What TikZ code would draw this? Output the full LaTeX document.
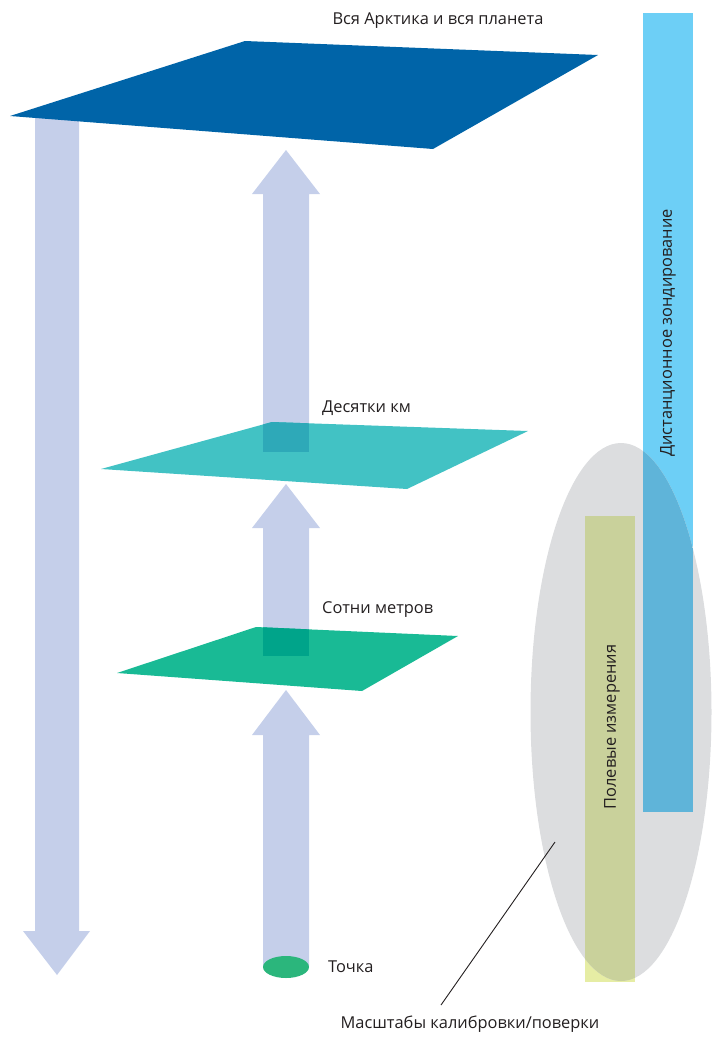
\documentclass[tikz,border=0pt]{standalone}
\usepackage{fontspec}
\setmainfont{Open Sans}
\usetikzlibrary{shapes.geometric}

\definecolor{planeblue}{HTML}{0064A8}
\definecolor{planeteal}{HTML}{42C2C4}
\definecolor{planegreen}{HTML}{19BA95}
\definecolor{overteal}{HTML}{2EA9B8}
\definecolor{overgreen}{HTML}{00A48A}
\definecolor{arrowblue}{HTML}{C5CFEA}
\definecolor{barblue}{HTML}{6DCFF6}
\definecolor{barblueshade}{HTML}{5FB4D9}
\definecolor{baryellow}{HTML}{E6EDA4}
\definecolor{baryellowshade}{HTML}{C9D19B}
\definecolor{ellgrey}{HTML}{DCDDDF}
\definecolor{pointgreen}{HTML}{2BB67C}
\definecolor{labeltext}{HTML}{231F20}

\begin{document}
\begin{tikzpicture}[
    x=1pt, y=-1pt,
    every node/.style={text=labeltext, font=\fontsize{16.4}{19}\selectfont},
    fatarrow/.style={fill=arrowblue},
    levellabel/.style={anchor=west, inner sep=0pt},
    bartext/.style={rotate=90, inner sep=0pt}
]
    \useasboundingbox (0,0) rectangle (715,1037);

    % Planes
    \coordinate (P1) at (10,116);  \coordinate (P2) at (245,41);
    \coordinate (P3) at (598,55);  \coordinate (P4) at (433,149);
    \coordinate (T1) at (101,469); \coordinate (T2) at (272,422);
    \coordinate (T3) at (528,431); \coordinate (T4) at (407,489);
    \coordinate (G1) at (117,673); \coordinate (G2) at (256,627);
    \coordinate (G3) at (458,636); \coordinate (G4) at (362,691);

    % Big arrow down
    \fill[fatarrow] (35,116) -- (79,116) -- (79,931) -- (90,931)
        -- (57,975) -- (23,931) -- (35,931) -- cycle;

    % Arrows up between the levels
    \foreach \low/\base/\tip in {966/735/690, 656/528/484, 452/194/150}
        \fill[fatarrow] (263,\low) -- (263,\base) -- (252,\base) -- (286,\tip)
            -- (320,\base) -- (309,\base) -- (309,\low) -- cycle;

    \fill[planeblue]  (P1) -- (P2) -- (P3) -- (P4) -- cycle;
    \fill[planeteal]  (T1) -- (T2) -- (T3) -- (T4) -- cycle;
    \fill[planegreen] (G1) -- (G2) -- (G3) -- (G4) -- cycle;

    % Shafts seen through the planes
    \begin{scope}
        \clip (T1) -- (T2) -- (T3) -- (T4) -- cycle;
        \fill[overteal] (263,400) rectangle (309,452);
    \end{scope}
    \begin{scope}
        \clip (G1) -- (G2) -- (G3) -- (G4) -- cycle;
        \fill[overgreen] (263,600) rectangle (309,656);
    \end{scope}

    \node[ellipse, fill=pointgreen, inner sep=0pt, minimum width=46pt,
          minimum height=22pt] (point) at (286,967) {};

    % Level labels
    \node (planet) at (438,21) {Вся Арктика и вся планета};
    \node[levellabel] (tens)   at (322,408) {Десятки км};
    \node[levellabel] (hundreds) at (322,610) {Сотни метров};
    \node[levellabel] (pointlbl) at (328,967) {Точка};

    % Remote sensing and field bars
    \fill[barblue]   (643,13)  rectangle (693,812);
    \fill[baryellow] (585,516) rectangle (635,982);
    \node[ellipse, fill=ellgrey, inner sep=0pt, minimum width=181pt,
          minimum height=538pt] (scales) at (621,712) {};
    \begin{scope}
        \clip (scales.center) ellipse [x radius=90.5pt, y radius=269pt];
        \fill[barblueshade]   (643,13)  rectangle (693,812);
        \fill[baryellowshade] (585,516) rectangle (635,982);
    \end{scope}

    \node[bartext] (remote) at (668,333) {Дистанционное зондирование};
    \node[bartext] (field)  at (612,727) {Полевые измерения};

    % Calibration scales
    \coordinate (calib)    at (555,842);
    \coordinate (calibend) at (441,1005);
    \node (scaleslbl) at (470,1024) {Масштабы калибровки/поверки};
    \draw[labeltext, line width=0.9pt] (calib) -- (calibend);

\end{tikzpicture}
\end{document}
